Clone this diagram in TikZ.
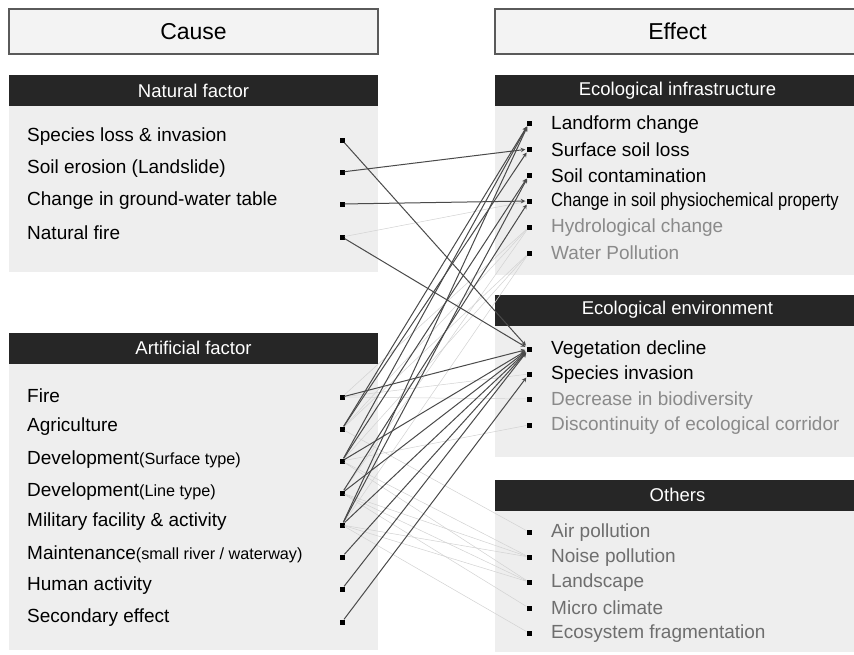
\documentclass[tikz,border=0pt]{standalone}
\usepackage{graphicx}
\usepackage{fontspec}
\setmainfont{Liberation Sans}
\usepackage{tikz}

\definecolor{hdark}{HTML}{262626}
\definecolor{panelgray}{HTML}{EEEEEE}
\definecolor{titlefill}{HTML}{F3F3F3}
\definecolor{framegray}{HTML}{5A5A5A}
\definecolor{linkdark}{HTML}{4A4A4A}
\definecolor{linklight}{HTML}{D2D2D2}
\definecolor{softtext}{HTML}{8A8A8A}
\definecolor{midtext}{HTML}{6E6E6E}

\tikzset{
  titlebox/.style={draw=framegray, fill=titlefill, line width=1.3pt, minimum height=45, font=\fontsize{23}{26}\selectfont},
  headbox/.style={fill=hdark, text=white, minimum height=31, inner sep=0, font=\fontsize{18.5}{22}\selectfont},
  panel/.style={fill=panelgray},
  dot/.style={fill=black, rectangle, minimum size=5, inner sep=0},
  item/.style={anchor=west, inner sep=0, font=\fontsize{19}{22}\selectfont},
  strong/.style={draw=linkdark, line width=1pt, -stealth, shorten >=1},
  weak/.style={draw=linklight, line width=0.5pt}
}
\newcommand{\subtxt}[1]{{\fontsize{16.2}{18}\selectfont #1}}

\begin{document}
\begin{tikzpicture}[x=1pt, y=-1pt]
	\clip (0,0) rectangle (854,654);
	\fill[white] (0,0) rectangle (854,654);

	% cause side
	\node[titlebox, minimum width=369] (cause) at (193.5,31.5) {Cause};
	\fill[panel] (9,106) rectangle (378,272);
	\fill[panel] (9,363) rectangle (378,650);
	\node[headbox, minimum width=369] (natural) at (193.5,90.5) {Natural factor};
	\node[headbox, minimum width=369] (artificial) at (193.5,348) {Artificial factor};

	% effect side
	\node[titlebox, minimum width=365] (effect) at (677.5,31.5) {Effect};
	\fill[panel] (495,106) rectangle (860,275);
	\fill[panel] (495,325) rectangle (860,457);
	\fill[panel] (495,510) rectangle (860,652);
	\node[headbox, minimum width=365] (infra) at (677.5,90.5) {Ecological infrastructure};
	\node[headbox, minimum width=365] (environ) at (677.5,310) {Ecological environment};
	\node[headbox, minimum width=365] (others) at (677.5,495) {Others};

	% natural factors
	\node[item] (tn1) at (27,137) {Species loss \& invasion};
	\node[item] (tn2) at (27,169) {Soil erosion (Landslide)};
	\node[item] (tn3) at (27,201) {Change in ground-water table};
	\node[item] (tn4) at (27,233) {Natural fire};
	\node[dot] (n1) at (342,140) {};
	\node[dot] (n2) at (342,172) {};
	\node[dot] (n3) at (342,204) {};
	\node[dot] (n4) at (342,237) {};

	% artificial factors
	\node[item] (ta1) at (27,396) {Fire};
	\node[item] (ta2) at (27,427) {Agriculture};
	\node[item] (ta3) at (27,460) {Development\subtxt{(Surface type)}};
	\node[item] (ta4) at (27,492) {Development\subtxt{(Line type)}};
	\node[item] (ta5) at (27,522) {Military facility \& activity};
	\node[item] (ta6) at (27,554) {Maintenance\subtxt{(small river / waterway)}};
	\node[item] (ta7) at (27,586) {Human activity};
	\node[item] (ta8) at (27,618) {Secondary effect};
	\node[dot] (a1) at (342,397) {};
	\node[dot] (a2) at (342,429) {};
	\node[dot] (a3) at (342,461) {};
	\node[dot] (a4) at (342,493) {};
	\node[dot] (a5) at (342,525) {};
	\node[dot] (a6) at (342,557) {};
	\node[dot] (a7) at (342,589) {};
	\node[dot] (a8) at (342,622) {};

	% ecological infrastructure
	\node[item] (te1) at (551,125) {Landform change};
	\node[item] (te2) at (551,150) {Surface soil loss};
	\node[item] (te3) at (551,176) {Soil contamination};
	\node[item] (te4) at (551,202) {\scalebox{0.87}[1]{Change in soil physiochemical property}};
	\node[item, text=softtext] (te5) at (551,228) {Hydrological change};
	\node[item, text=softtext] (te6) at (551,253) {Water Pollution};
	\node[dot] (e1) at (529,123) {};
	\node[dot] (e2) at (529,149) {};
	\node[dot] (e3) at (529,175) {};
	\node[dot] (e4) at (529,201) {};
	\node[dot] (e5) at (529,227) {};
	\node[dot] (e6) at (529,253) {};

	% ecological environment
	\node[item] (tv1) at (551,350) {Vegetation decline};
	\node[item] (tv2) at (551,375) {Species invasion};
	\node[item, text=softtext] (tv3) at (551,401) {Decrease in biodiversity};
	\node[item, text=softtext] (tv4) at (551,426) {Discontinuity of ecological corridor};
	\node[dot] (v1) at (529,349) {};
	\node[dot] (v2) at (529,374) {};
	\node[dot] (v3) at (529,399) {};
	\node[dot] (v4) at (529,425) {};

	% others
	\node[item, text=midtext] (to1) at (551,533) {Air pollution};
	\node[item, text=midtext] (to2) at (551,558) {Noise pollution};
	\node[item, text=midtext] (to3) at (551,583) {Landscape};
	\node[item, text=midtext] (to4) at (551,608) {Micro climate};
	\node[item, text=midtext] (to5) at (551,634) {Ecosystem fragmentation};
	\node[dot] (o1) at (529,532) {};
	\node[dot] (o2) at (529,557) {};
	\node[dot] (o3) at (529,582) {};
	\node[dot] (o4) at (529,608) {};
	\node[dot] (o5) at (529,633) {};

	% weak links
	\draw[weak] (n4) -- (e4);
	\draw[weak] (a1) -- (v3);
	\draw[weak] (a1) -- (v2);
	\draw[weak] (a1) -- (e5);
	\draw[weak] (a2) -- (e5);
	\draw[weak] (a2) -- (e6);
	\draw[weak] (a2) -- (o1);
	\draw[weak] (a3) -- (e6);
	\draw[weak] (a3) -- (v4);
	\draw[weak] (a3) -- (o2);
	\draw[weak] (a3) -- (o3);
	\draw[weak] (a4) -- (e5);
	\draw[weak] (a4) -- (o2);
	\draw[weak] (a4) -- (o3);
	\draw[weak] (a4) -- (o4);
	\draw[weak] (a5) -- (e6);
	\draw[weak] (a5) -- (o2);
	\draw[weak] (a5) -- (o3);
	\draw[weak] (a5) -- (o5);

	% strong links
	\draw[strong] (n1) -- (v1);
	\draw[strong] (n2) -- (e2);
	\draw[strong] (n3) -- (e4);
	\draw[strong] (n4) -- (v1);
	\draw[strong] (a1) -- (v1);
	\draw[strong] (a2) -- (e1);
	\draw[strong] (a2) -- (e2);
	\draw[strong] (a3) -- (e1);
	\draw[strong] (a3) -- (e3);
	\draw[strong] (a3) -- (v1);
	\draw[strong] (a4) -- (e4);
	\draw[strong] (a4) -- (v1);
	\draw[strong] (a5) -- (e1);
	\draw[strong] (a5) -- (e3);
	\draw[strong] (a5) -- (v1);
	\draw[strong] (a6) -- (v1);
	\draw[strong] (a7) -- (v1);
	\draw[strong] (a8) -- (v2);
\end{tikzpicture}
\end{document}
